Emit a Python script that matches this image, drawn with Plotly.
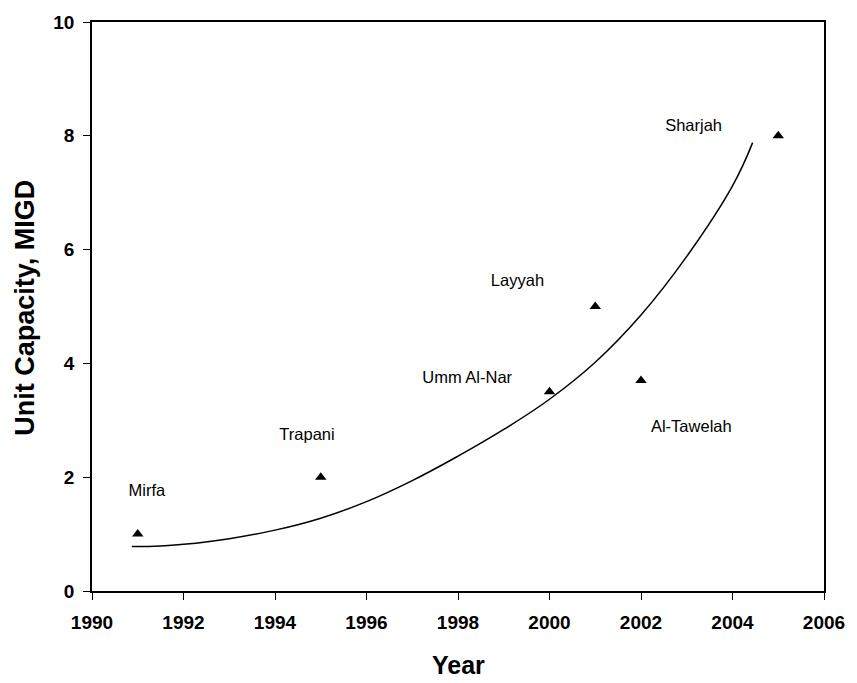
import plotly.graph_objects as go

# Plant data
plants = ["Mirfa", "Trapani", "Umm Al-Nar", "Layyah", "Al-Tawelah", "Sharjah"]
years = [1991, 1995, 2000, 2001, 2002, 2005]
capacity = [1.0, 2.0, 3.5, 5.0, 3.7, 8.0]

# Label anchor positions (data coords)
label_x = [1991.2, 1994.7, 1998.2, 1999.3, 2003.1, 2003.15]
label_y = [1.74, 2.73, 3.73, 5.44, 2.87, 8.15]

# Trend curve
curve_x = [1990.87, 1991.5, 1992.0, 1993.0, 1994.0, 1995.0, 1996.0, 1997.0,
           1998.0, 1999.0, 2000.0, 2001.0, 2002.0, 2003.0, 2004.0, 2004.44]
curve_y = [0.78, 0.79, 0.82, 0.92, 1.07, 1.28, 1.57, 1.94,
           2.37, 2.84, 3.37, 4.02, 4.85, 5.88, 7.12, 7.88]

x_ticks = list(range(1990, 2007, 2))
y_ticks = list(range(0, 11, 2))

FONT = "Arial, Liberation Sans, sans-serif"

fig = go.Figure()
fig.add_trace(go.Scatter(x=curve_x, y=curve_y, mode="lines",
                         line=dict(color="black", width=1.5, shape="spline", smoothing=1.2),
                         showlegend=False, hoverinfo="skip"))
fig.add_trace(go.Scatter(x=years, y=capacity, mode="markers",
                         marker=dict(symbol="triangle-up", size=10, color="black"),
                         showlegend=False))
fig.add_trace(go.Scatter(x=label_x, y=label_y, mode="text", text=plants,
                         textposition="middle center",
                         textfont=dict(family=FONT, size=16.5, color="black"),
                         showlegend=False, hoverinfo="skip"))

axis_common = dict(showgrid=False, zeroline=False, showline=True, linecolor="black",
                   linewidth=1.5, mirror=True, ticks="outside", ticklen=7, tickwidth=1,
                   tickcolor="black",
                   tickfont=dict(family=FONT, size=19, color="black", weight="bold"))

fig.update_layout(
    width=857, height=683,
    margin=dict(l=92, r=26, t=19, b=92),
    paper_bgcolor="white", plot_bgcolor="white",
    xaxis=dict(range=[1990, 2006], tickvals=x_ticks, ticklabelstandoff=6, **axis_common),
    yaxis=dict(range=[0, 10], tickvals=y_ticks, ticklabelstandoff=5, **axis_common),
    annotations=[
        dict(text="<b>Year</b>", x=0.5, xref="paper", y=-0.13, yref="paper",
             yanchor="middle", xanchor="center", showarrow=False,
             font=dict(family=FONT, size=25, color="black")),
        dict(text="<b>Unit Capacity, MIGD</b>", x=-0.0907, xref="paper", y=0.497, yref="paper",
             textangle=-90, xanchor="center", yanchor="middle", showarrow=False,
             font=dict(family=FONT, size=27, color="black")),
    ],
)

fig.write_html("out.html", config={"displayModeBar": False},
               post_script="document.body.style.margin='0px';document.body.style.overflow='hidden';")
